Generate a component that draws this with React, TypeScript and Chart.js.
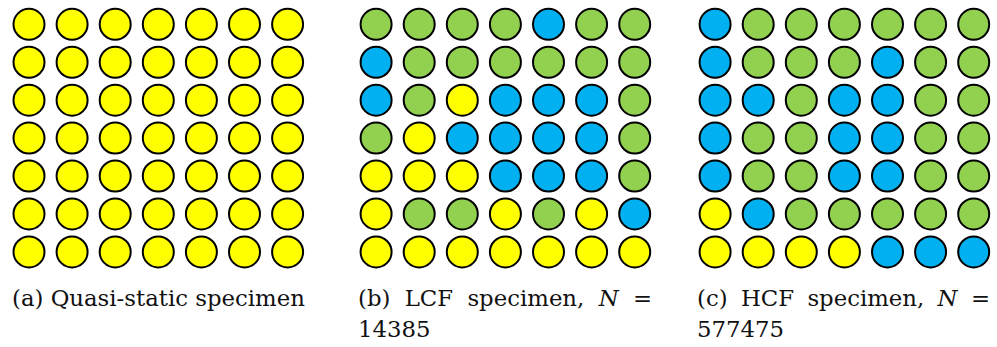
import React, { useEffect, useRef } from "react";
import { Chart, registerables } from "chart.js";

Chart.register(...registerables);

// Cell state per specimen (rows top → bottom, columns left → right)
// Y = yellow, G = green, B = blue
const quasiStaticGrid: string[] = [
  "YYYYYYY",
  "YYYYYYY",
  "YYYYYYY",
  "YYYYYYY",
  "YYYYYYY",
  "YYYYYYY",
  "YYYYYYY",
];
const lcfGrid: string[] = [
  "GGGGBGG",
  "BGGGGGG",
  "BGYBBBG",
  "GYBBBBG",
  "YYYBBBG",
  "YGGYGYB",
  "YYYYYYY",
];
const hcfGrid: string[] = [
  "BGGGGGG",
  "BGGGBGG",
  "BBGBBGG",
  "BGGBBGG",
  "BGGBBGG",
  "YBGGGGG",
  "YYYYBBB",
];
const captionLabels: string[] = ["(a)", "(b)", "(c)"];
const captionTitles: string[] = ["Quasi-static specimen", "LCF specimen,", "HCF specimen,"];
const cycleCounts: (string | null)[] = [null, "14385", "577475"];

const STATE_COLORS: Record<string, string> = {
  Y: "#FFFF00",
  G: "#92D050",
  B: "#00B0F0",
};

// layout (page pixels)
const COL_SPACING = 43.1;
const ROW_SPACING = 37.93;
const ROW0_CENTER = 24.3;
const CANVAS_H = 280;
const FONT = "'DejaVu Serif', 'Liberation Serif', serif";
const FONT_SIZE = 22.8;
const LINE_H = 31;

type PanelLayout = { left: number; width: number; col0: number; capLeft: number; capWidth: number };
const panelLayouts: PanelLayout[] = [
  { left: 0, width: 340, col0: 29.0, capLeft: 12, capWidth: 292 },
  { left: 345, width: 335, col0: 376.1, capLeft: 358, capWidth: 294 },
  { left: 685, width: 312, col0: 715.1, capLeft: 697, capWidth: 293 },
];

function GridChart({ grid, layout }: { grid: string[]; layout: PanelLayout }) {
  const ref = useRef<HTMLCanvasElement | null>(null);
  useEffect(() => {
    if (!ref.current) return;
    const pts: { x: number; y: number }[] = [];
    const colors: string[] = [];
    grid.forEach((row, r) => {
      row.split("").forEach((c, k) => {
        pts.push({ x: k, y: r });
        colors.push(STATE_COLORS[c]);
      });
    });
    const xMin = -(layout.col0 - layout.left) / COL_SPACING;
    const xMax = xMin + layout.width / COL_SPACING;
    const yMin = -ROW0_CENTER / ROW_SPACING;
    const yMax = yMin + CANVAS_H / ROW_SPACING;
    const chart = new Chart(ref.current, {
      type: "scatter",
      data: {
        datasets: [
          {
            data: pts,
            pointRadius: 15.5,
            pointHoverRadius: 15.5,
            pointBackgroundColor: colors,
            pointHoverBackgroundColor: colors,
            pointBorderColor: "#000000",
            pointHoverBorderColor: "#000000",
            pointBorderWidth: 2,
            pointHoverBorderWidth: 2,
            clip: false as any,
          },
        ],
      },
      options: {
        responsive: false,
        animation: false,
        devicePixelRatio: 1,
        events: [],
        layout: { padding: 0, autoPadding: false } as any,
        plugins: { legend: { display: false }, tooltip: { enabled: false } },
        scales: {
          x: { type: "linear", display: false, min: xMin, max: xMax },
          y: { type: "linear", display: false, min: yMin, max: yMax, reverse: true },
        },
      },
    });
    return () => chart.destroy();
  }, [grid, layout]);
  return (
    <canvas
      ref={ref}
      width={layout.width}
      height={CANVAS_H}
      style={{ position: "absolute", left: layout.left, top: 0, width: layout.width, height: CANVAS_H }}
    />
  );
}

function Caption({ i }: { i: number }) {
  const l = panelLayouts[i];
  const n = cycleCounts[i];
  const lineStyle: React.CSSProperties = {
    height: LINE_H,
    lineHeight: LINE_H + "px",
    whiteSpace: "nowrap",
  };
  const words = [captionLabels[i], ...captionTitles[i].split(" ")];
  return (
    <div
      style={{
        position: "absolute",
        left: l.capLeft,
        top: 282.6,
        width: l.capWidth,
        fontFamily: FONT,
        fontSize: FONT_SIZE,
        color: "#111",
      }}
    >
      {n === null ? (
        <div style={lineStyle}>{words.join(" ")}</div>
      ) : (
        <>
          <div style={{ ...lineStyle, display: "flex", justifyContent: "space-between" }}>
            {words.map((w, k) => (
              <span key={k}>{w}</span>
            ))}
            <span>
              <i>N</i>
            </span>
            <span>=</span>
          </div>
          <div style={lineStyle}>{n}</div>
        </>
      )}
    </div>
  );
}

export default function App() {
  const grids = [quasiStaticGrid, lcfGrid, hcfGrid];
  return (
    <div
      style={{
        position: "absolute",
        left: 0,
        top: 0,
        width: 997,
        height: 347,
        background: "#ffffff",
        overflow: "hidden",
      }}
    >
      {grids.map((g, i) => (
        <GridChart key={i} grid={g} layout={panelLayouts[i]} />
      ))}
      {grids.map((_, i) => (
        <Caption key={"c" + i} i={i} />
      ))}
    </div>
  );
}
